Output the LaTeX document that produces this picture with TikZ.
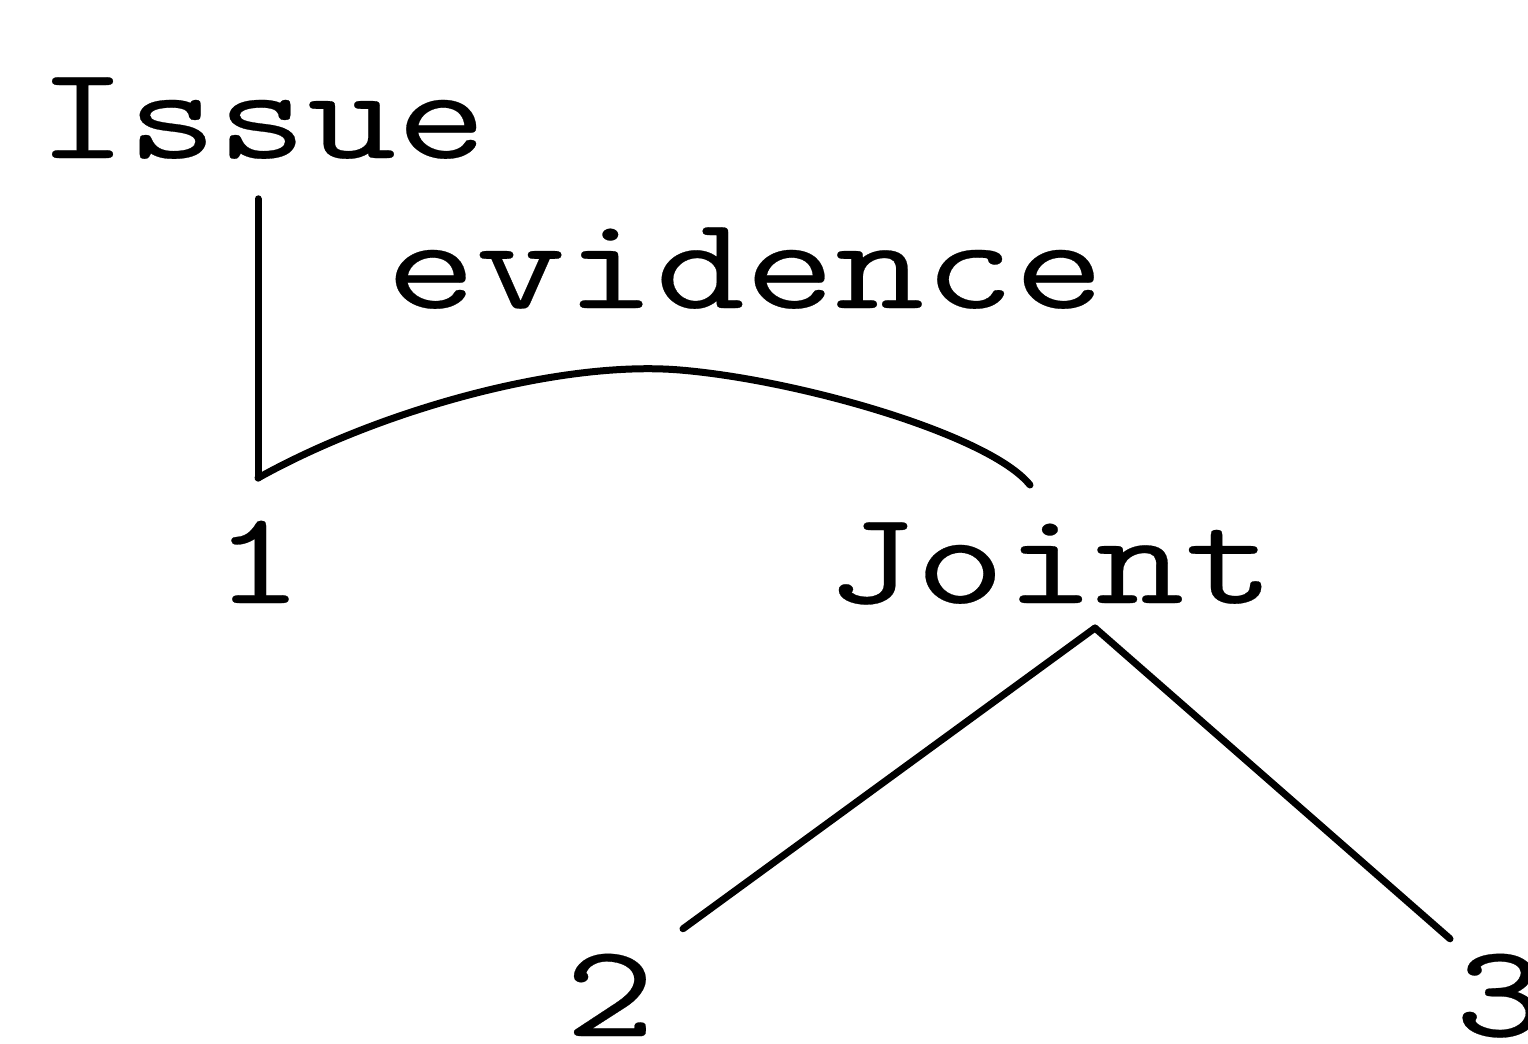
\documentclass[tikz,border=0pt]{standalone}
\usepackage{fontspec}
\newfontfamily\courfont[FakeStretch=1.32,FakeBold=0.2]{Latin Modern Mono}
\begin{document}
\begin{tikzpicture}[x=0.5pt,y=-0.5pt,
  lbl/.style={anchor=base,inner sep=0pt,outer sep=0pt,font=\courfont\fontsize{66}{72}\selectfont},
  edge/.style={line width=3.5pt,line cap=round,line join=round}]
\useasboundingbox (0,0) rectangle (1528,1044);
\node[lbl] (issue) at (262,158) {Issue};
\node[lbl] (evid) at (745,308) {evidence};
\node[lbl] (one) at (258,603) {1};
\node[lbl] (joint) at (1050,603) {Joint};
\node[lbl] (two) at (610,1036) {2};
\node[lbl] (three) at (1500,1036) {3};
\coordinate (k1) at (258,478);
\coordinate (jt) at (1030,485);
\coordinate (jb) at (1095,628);
\draw[edge] ([yshift=-20pt]issue.south -| k1) -- (k1);
\draw[edge] (k1) .. controls (380,410) and (560,360) .. (680,370)
  .. controls (800,380) and (990,435) .. (jt);
\draw[edge] (jb) -- ([xshift=36.5pt,yshift=12.5pt]two.north);
\draw[edge] (jb) -- ([xshift=-25pt,yshift=7.5pt]three.north);
\end{tikzpicture}
\end{document}
